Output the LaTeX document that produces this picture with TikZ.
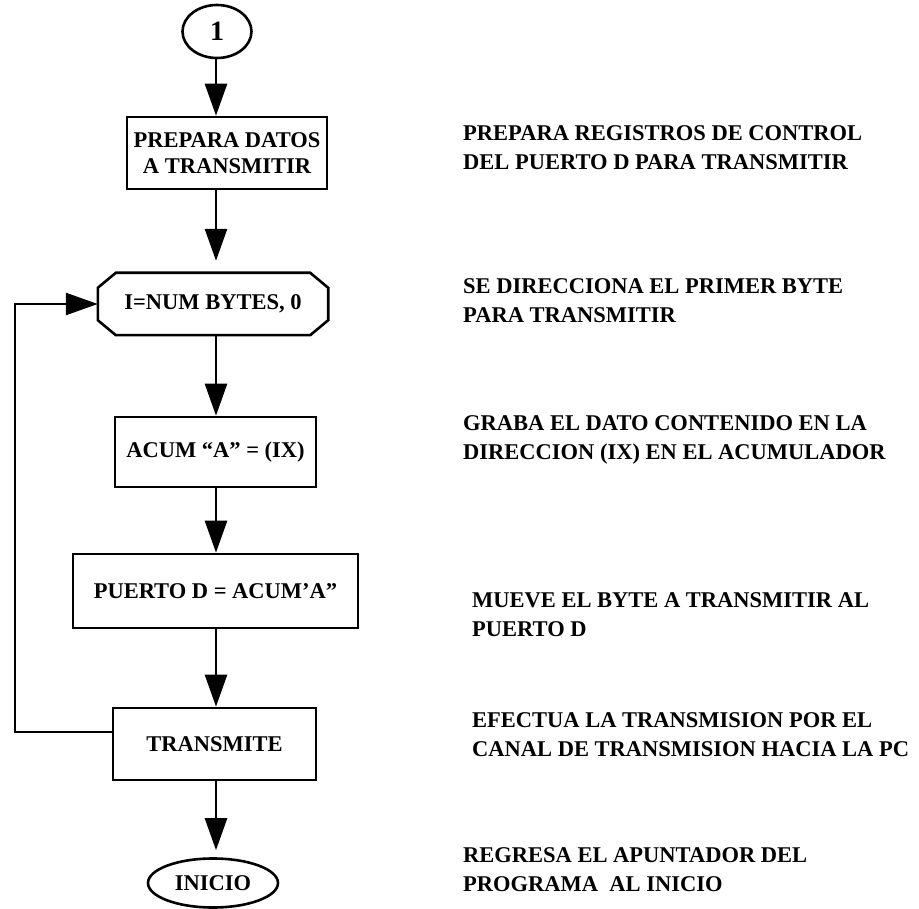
\documentclass[tikz,border=0pt]{standalone}
\usepackage{fontspec}
\setmainfont{Liberation Serif}
\usetikzlibrary{arrows.meta,shapes.geometric,calc}
\tikzset{
  lw/.style={line width=2.6pt},
  stepbox/.style={draw,lw,rectangle,inner sep=0pt,align=center,font=\fontsize{22.5}{26}\selectfont\bfseries},
  ovalbox/.style={draw,lw,ellipse,inner sep=0pt,font=\fontsize{22.5}{26}\selectfont\bfseries},
  note/.style={anchor=north west,inner sep=0pt,align=left,font=\fontsize{22.5}{29}\selectfont\bfseries},
  arr/.style={lw,-{Triangle[length=32pt,width=22pt]}},
  plain/.style={lw}
}
\begin{document}
\begin{tikzpicture}[x=1pt,y=-1pt]
\useasboundingbox (0,0) rectangle (919,909);
\coordinate (col) at (216,0);
\coordinate (lx) at (15,0);
% flow nodes
\node[ovalbox,minimum width=69pt,minimum height=53pt,font=\fontsize{28}{28}\selectfont\bfseries] (c1) at (217,31.5) {1};
\node[stepbox,minimum width=200pt,minimum height=72pt] (box1) at (227,153) {PREPARA DATOS\\A TRANSMITIR};
\node[inner sep=0pt,minimum width=230pt,minimum height=62pt,font=\fontsize{22.5}{26}\selectfont\bfseries] (hex) at (213,304) {I=NUM BYTES, 0};
\draw[lw,line join=miter] ($(hex.north west)+(18,0)$) -- ($(hex.north east)+(-18,0)$) -- ($(hex.north east)+(0,15)$) -- ($(hex.south east)+(0,-15)$) -- ($(hex.south east)+(-18,0)$) -- ($(hex.south west)+(18,0)$) -- ($(hex.south west)+(0,-15)$) -- ($(hex.north west)+(0,15)$) -- cycle;
\node[stepbox,minimum width=201pt,minimum height=70pt] (acum) at (215.5,452) {ACUM “A" = (IX)};
\node[stepbox,minimum width=285pt,minimum height=74pt] (puerto) at (215.5,591) {PUERTO D = ACUM'A"};
\node[stepbox,minimum width=203pt,minimum height=72pt] (trans) at (214.5,744) {TRANSMITE};
\node[ovalbox,minimum width=130pt,minimum height=49pt] (ini) at (213,883) {INICIO};
% connectors
\draw[arr] (c1.south -| col) -- (box1.north -| col);
\draw[arr,shorten >=12pt] (box1.south -| col) -- (hex.north -| col);
\draw[arr] (hex.south -| col) -- (acum.north -| col);
\draw[arr] (acum.south -| col) -- (puerto.north -| col);
\draw[arr] (puerto.south -| col) -- (trans.north -| col);
\draw[arr,shorten >=7pt] (trans.south -| col) -- (ini.north -| col);
\coordinate (tw) at ([yshift=12pt]trans.west);
\draw[arr,line join=miter] (tw) -- (tw -| lx) |- (hex.west);
% notes
\node[note] (n1) at (463,125) {PREPARA REGISTROS DE CONTROL\\DEL PUERTO D PARA TRANSMITIR};
\node[note] (n2) at (463,278) {SE DIRECCIONA EL PRIMER BYTE\\PARA TRANSMITIR};
\node[note] (n3) at (463,415) {GRABA EL DATO CONTENIDO EN LA\\DIRECCION (IX) EN EL ACUMULADOR};
\node[note] (n4) at (472,592) {MUEVE EL BYTE A TRANSMITIR AL\\PUERTO D};
\node[note] (n5) at (472,712) {EFECTUA LA TRANSMISION POR EL\\CANAL DE TRANSMISION HACIA LA PC};
\node[note] (n6) at (463,847) {REGRESA EL APUNTADOR DEL\\PROGRAMA\ \ AL INICIO};
\end{tikzpicture}
\end{document}
